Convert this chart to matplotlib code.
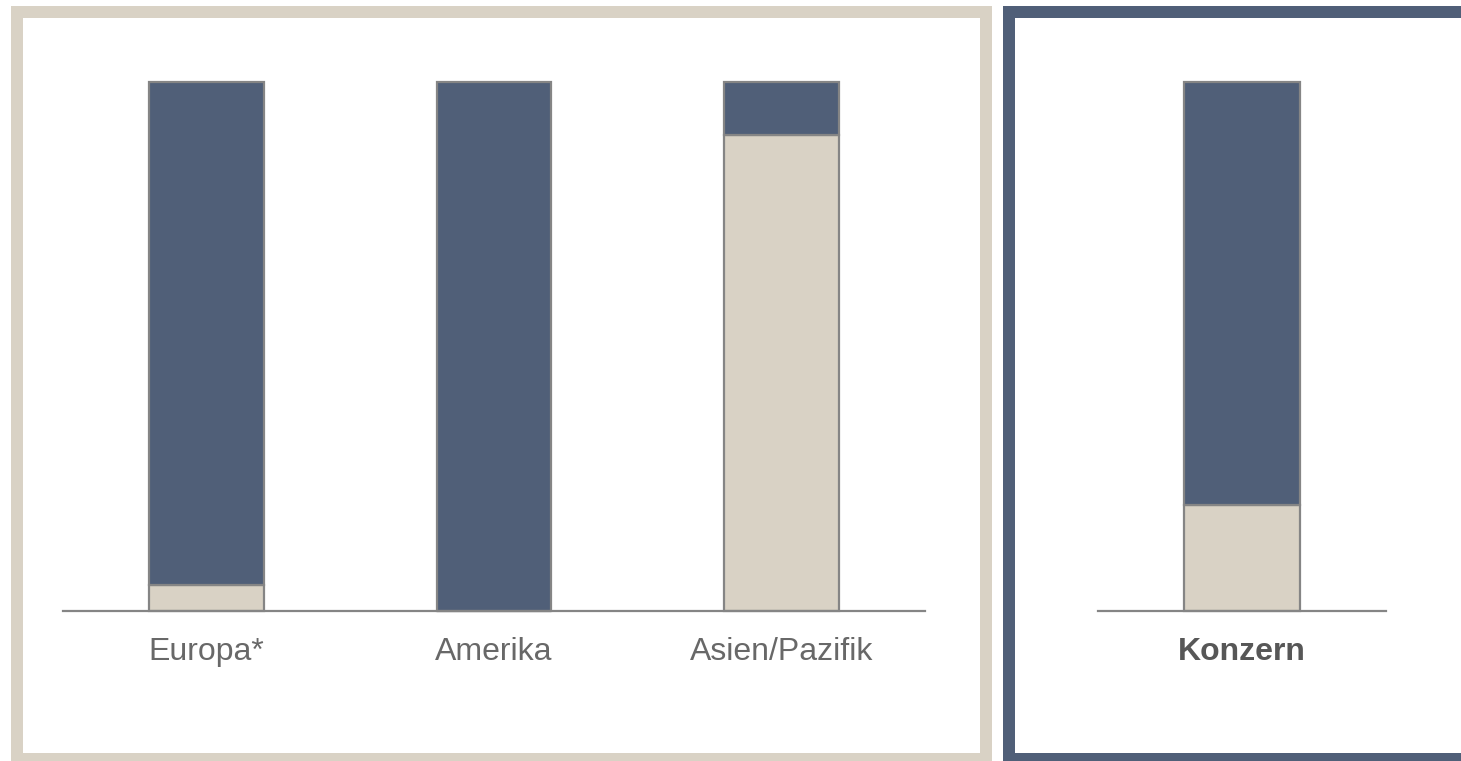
import matplotlib.pyplot as plt
from matplotlib.patches import Rectangle

# Anteile in Prozent (gestapelt auf 100)
regions = ["Europa*", "Amerika", "Asien/Pazifik"]
region_beige = [5, 0, 90]
region_navy = [95, 100, 10]

group = ["Konzern"]
group_beige = [20]
group_navy = [80]

NAVY = "#505f78"
BEIGE = "#d9d2c5"
EDGE = "#858585"
TEXT = "#686868"

W, H = 1461, 761
fig = plt.figure(figsize=(W / 100, H / 100), dpi=100)
fig.patch.set_facecolor("white")


def px_rect(x0, x1, y0, y1, color, z):
    # Rechteck in Pixelkoordinaten (y von oben)
    fig.patches.append(Rectangle((x0 / W, (H - y1) / H), (x1 - x0) / W, (y1 - y0) / H,
                                 transform=fig.transFigure, facecolor=color,
                                 edgecolor="none", zorder=z))


def px_axes(x0, x1, y_base, y_top):
    return fig.add_axes([x0 / W, (H - y_base) / H, (x1 - x0) / W, (y_base - y_top) / H])


def draw_bars(ax, names, beige, navy, bold=False):
    x = list(range(len(names)))
    ax.bar(x, beige, width=0.4, color=BEIGE, edgecolor=EDGE, linewidth=1.6, clip_on=False, zorder=3)
    ax.bar(x, navy, width=0.4, bottom=beige, color=NAVY, edgecolor=EDGE, linewidth=1.6, clip_on=False, zorder=3)
    ax.set_xlim(-0.5, len(names) - 0.5)
    ax.set_ylim(0, 100)
    for s in ["top", "right", "left"]:
        ax.spines[s].set_visible(False)
    ax.spines["bottom"].set_color(EDGE)
    ax.spines["bottom"].set_linewidth(1.6)
    ax.spines["bottom"].set_zorder(4)
    ax.set_xticks([])
    ax.set_yticks([])
    ax.patch.set_alpha(0)
    for xi, name in zip(x, names):
        ax.text(xi, -0.093, name, transform=ax.get_xaxis_transform(),
                ha="center", va="baseline", fontsize=23,
                family=["Liberation Sans", "DejaVu Sans"],
                fontweight="bold" if bold else "normal",
                color="#575757" if bold else TEXT)


# Rahmen der beiden Felder
px_rect(11, 992, 6, 770, BEIGE, -3)
px_rect(23, 980, 18, 753, "white", -2)
px_rect(1003, 1475, 6, 770, NAVY, -3)
px_rect(1015, 1470, 18, 753, "white", -2)

ax1 = px_axes(63, 925, 611, 82)
draw_bars(ax1, regions, region_beige, region_navy)

ax2 = px_axes(1098, 1386, 611, 82)
draw_bars(ax2, group, group_beige, group_navy, bold=True)

fig.savefig("out.png", dpi=100)
